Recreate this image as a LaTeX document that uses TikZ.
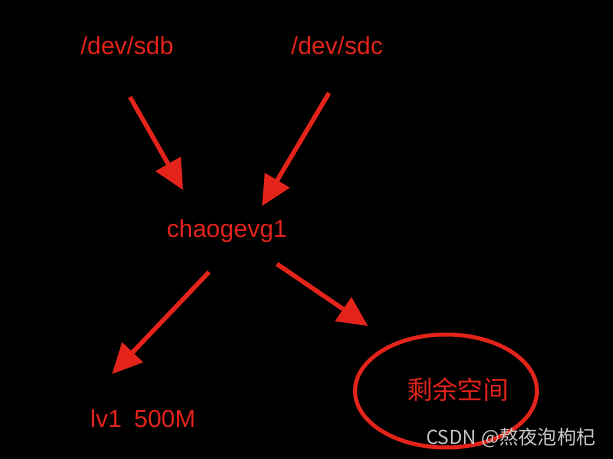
\documentclass[tikz,border=0pt]{standalone}
\usepackage{fontspec}
\setmainfont{Liberation Sans}
\newfontfamily\cjk{Noto Sans CJK SC}
\usetikzlibrary{arrows.meta,shapes.geometric}
\definecolor{lvmred}{RGB}{228,36,26}
\definecolor{markgray}{RGB}{200,200,200}
\tikzset{
  lvmtext/.style={text=lvmred, font=\fontsize{14}{16}\selectfont, inner sep=0pt},
  flow/.style={draw=lvmred, line width=0.09cm, -{Triangle[length=0.6cm,width=0.56cm]}},
}

\begin{document}
\begin{tikzpicture}[x=0.02cm, y=-0.02cm]
        \fill[black] (0,0) rectangle (613,459);
        \useasboundingbox (0,0) rectangle (613,459);
        \node[lvmtext] (sdb) at (127, 46) {/dev/sdb};
        \node[lvmtext] (sdc) at (337, 46) {/dev/sdc};
        \node[lvmtext] (vg) at (227, 231) {chaogevg1};
        \node[lvmtext] (lv) at (143, 419) {lv1\hspace{0.5em}500M};
        \node[lvmtext, font=\cjk\fontsize{14.5}{16}\selectfont] (free) at (458, 390) {剩余空间};
        \node[draw=lvmred, line width=0.08cm, ellipse, minimum width=3.64cm, minimum height=2.26cm] (ring) at (446, 391) {};
        \node[text=markgray, font=\cjk\fontsize{11}{12}\selectfont, inner sep=0pt] (mark) at (511, 438) {CSDN @熬夜泡枸杞};
        \coordinate (sdb-out) at (130, 97);
        \coordinate (sdb-in) at (183, 190);
        \coordinate (sdc-out) at (329, 93);
        \coordinate (sdc-in) at (262, 206);
        \coordinate (lv-out) at (209, 272);
        \coordinate (lv-in) at (112, 374);
        \coordinate (free-out) at (277, 264);
        \coordinate (free-in) at (368, 326);
        \draw[flow] (sdb-out) -- (sdb-in);
        \draw[flow] (sdc-out) -- (sdc-in);
        \draw[flow] (lv-out) -- (lv-in);
        \draw[flow] (free-out) -- (free-in);
      \end{tikzpicture}
\end{document}
